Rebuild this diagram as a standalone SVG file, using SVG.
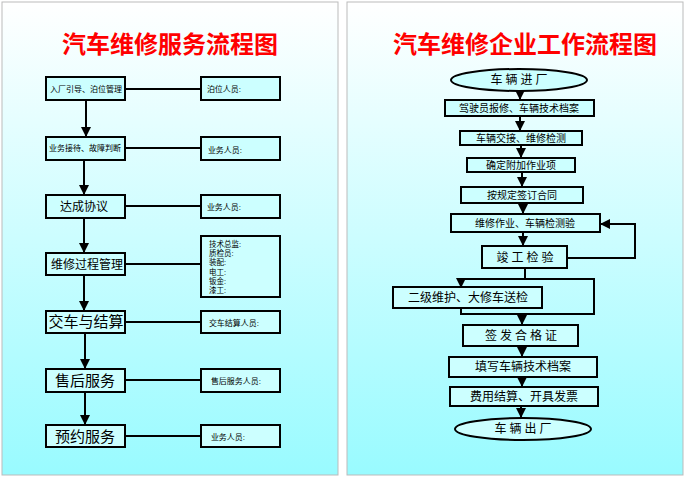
<svg xmlns="http://www.w3.org/2000/svg" width="686" height="477" viewBox="0 0 686 477">
<defs>
<linearGradient id="bg" x1="0" y1="0" x2="0" y2="1"><stop offset="0" stop-color="#ffffff"/><stop offset="1" stop-color="#99fbff"/></linearGradient>
<marker id="ar" viewBox="0 0 10 10" refX="10" refY="5" markerWidth="5" markerHeight="5" orient="auto"><path d="M0,0L10,5L0,10z" fill="#000"/></marker>
</defs>
<style>
text{font-family:"Liberation Serif","Noto Sans CJK SC",serif;fill:#000;text-anchor:middle;dominant-baseline:central}
.t{fill:#ff0000;font-size:24px;font-weight:bold}
.b rect,.b ellipse{fill:#ccffff;stroke:#000;stroke-width:2}
.c line,.c path{stroke:#000;stroke-width:2;fill:none}
.a{marker-end:url(#ar)}
.s{font-size:8px}.x{font-size:10px}.m{font-size:12px}.l{font-size:15px}
.k{font-size:7.5px;text-anchor:start}
</style>
<rect x="2" y="2" width="336" height="473" fill="url(#bg)" stroke="#bbb"/>
<rect x="347" y="2" width="336" height="473" fill="url(#bg)" stroke="#bbb"/>
<text class="t" x="170" y="45">汽车维修服务流程图</text>
<text class="t" x="525" y="45">汽车维修企业工作流程图</text>
<g class="c">
<line x1="125" y1="89" x2="201" y2="89"/><line x1="125" y1="148" x2="201" y2="148"/><line x1="125" y1="206" x2="201" y2="206"/><line x1="125" y1="264" x2="201" y2="264"/><line x1="125" y1="322" x2="201" y2="322"/><line x1="125" y1="380" x2="201" y2="380"/><line x1="125" y1="436" x2="201" y2="436"/>
<line class="a" x1="86" y1="100" x2="86" y2="137"/><line class="a" x1="84" y1="160" x2="84" y2="195"/><line class="a" x1="84" y1="218" x2="84" y2="253"/><line class="a" x1="84" y1="275" x2="84" y2="311"/><line class="a" x1="85" y1="333" x2="85" y2="369"/><line class="a" x1="85" y1="392" x2="85" y2="425"/>
<line class="a" x1="520" y1="91" x2="520" y2="100"/><line class="a" x1="520" y1="116" x2="520" y2="131"/><line class="a" x1="521" y1="145" x2="521" y2="158"/><line class="a" x1="522" y1="172" x2="522" y2="187"/><line class="a" x1="523" y1="203" x2="523" y2="214"/><line class="a" x1="523" y1="232" x2="523" y2="246"/>
<path class="a" d="M567,258H635V224H600"/>
<path d="M525,268V279H594V314H461V308"/><path class="a" d="M525,279H461V288"/>
<line class="a" x1="522" y1="314" x2="522" y2="325"/><line class="a" x1="522" y1="346" x2="522" y2="357"/><line class="a" x1="522" y1="377" x2="522" y2="387"/><line class="a" x1="521" y1="406" x2="521" y2="418"/>
</g>
<g class="b">
<g id="l1"><rect x="46" y="77" width="79" height="23"/><text class="s" x="86" y="89">入厂引导、泊位管理</text></g>
<g id="r1"><rect x="201" y="77" width="79" height="23"/><text class="s" x="224" y="89">泊位人员:</text></g>
<g id="l2"><rect x="46" y="137" width="79" height="23"/><text class="s" x="85" y="148">业务接待、故障判断</text></g>
<g id="r2"><rect x="201" y="137" width="79" height="23"/><text class="s" x="225" y="150">业务人员:</text></g>
<g id="l3"><rect x="46" y="195" width="79" height="23"/><text class="m" x="84" y="207">达成协议</text></g>
<g id="r3"><rect x="201" y="195" width="79" height="23"/><text class="s" x="224" y="207">业务人员:</text></g>
<g id="l4"><rect x="46" y="253" width="79" height="22"/><text class="m" x="87" y="265">维修过程管理</text></g>
<g id="r4"><rect x="201" y="236" width="79" height="61"/>
<text class="k" x="209" y="244">技术总监:</text><text class="k" x="209" y="253">质检员:</text><text class="k" x="209" y="262">装配:</text><text class="k" x="209" y="272">电工:</text><text class="k" x="209" y="281">钣金:</text><text class="k" x="209" y="290">漆工:</text></g>
<g id="l5"><rect x="46" y="311" width="79" height="22"/><text class="l" x="86" y="322">交车与结算</text></g>
<g id="r5"><rect x="201" y="311" width="79" height="22"/><text class="s" x="234" y="323">交车结算人员:</text></g>
<g id="l6"><rect x="46" y="369" width="79" height="23"/><text class="l" x="85" y="381">售后服务</text></g>
<g id="r6"><rect x="201" y="369" width="79" height="23"/><text class="s" x="236" y="381">售后服务人员:</text></g>
<g id="l7"><rect x="46" y="425" width="79" height="22"/><text class="l" x="85" y="437">预约服务</text></g>
<g id="r7"><rect x="201" y="425" width="79" height="22"/><text class="s" x="228" y="437">业务人员:</text></g>
<g id="n1"><ellipse cx="519" cy="80" rx="68" ry="11"/><text class="m" x="519" y="80">车 辆 进 厂</text></g>
<g id="n2"><rect x="445" y="100" width="149" height="16"/><text class="x" x="519" y="108">驾驶员报修、车辆技术档案</text></g>
<g id="n3"><rect x="460" y="131" width="122" height="14"/><text class="x" x="521" y="138">车辆交接、维修检测</text></g>
<g id="n4"><rect x="467" y="158" width="108" height="14"/><text class="x" x="521" y="165">确定附加作业项</text></g>
<g id="n5"><rect x="461" y="187" width="122" height="16"/><text class="x" x="522" y="195">按规定签订合同</text></g>
<g id="n6"><rect x="451" y="214" width="149" height="18"/><text class="x" x="525" y="223">维修作业、车辆检测验</text></g>
<g id="n7"><rect x="482" y="246" width="85" height="22"/><text class="m" x="525" y="258">竣 工 检 验</text></g>
<g id="n8"><rect x="393" y="287" width="149" height="21"/><text class="m" x="468" y="298">二级维护、大修车送检</text></g>
<g id="n9"><rect x="463" y="325" width="115" height="21"/><text class="m" x="521" y="336">签 发 合 格 证</text></g>
<g id="n10"><rect x="449" y="357" width="148" height="20"/><text class="m" x="523" y="367">填写车辆技术档案</text></g>
<g id="n11"><rect x="450" y="387" width="148" height="19"/><text class="m" x="524" y="397">费用结算、开具发票</text></g>
<g id="n12"><ellipse cx="523" cy="429" rx="68" ry="11"/><text class="m" x="523" y="429">车 辆 出 厂</text></g>
</g>
</svg>
